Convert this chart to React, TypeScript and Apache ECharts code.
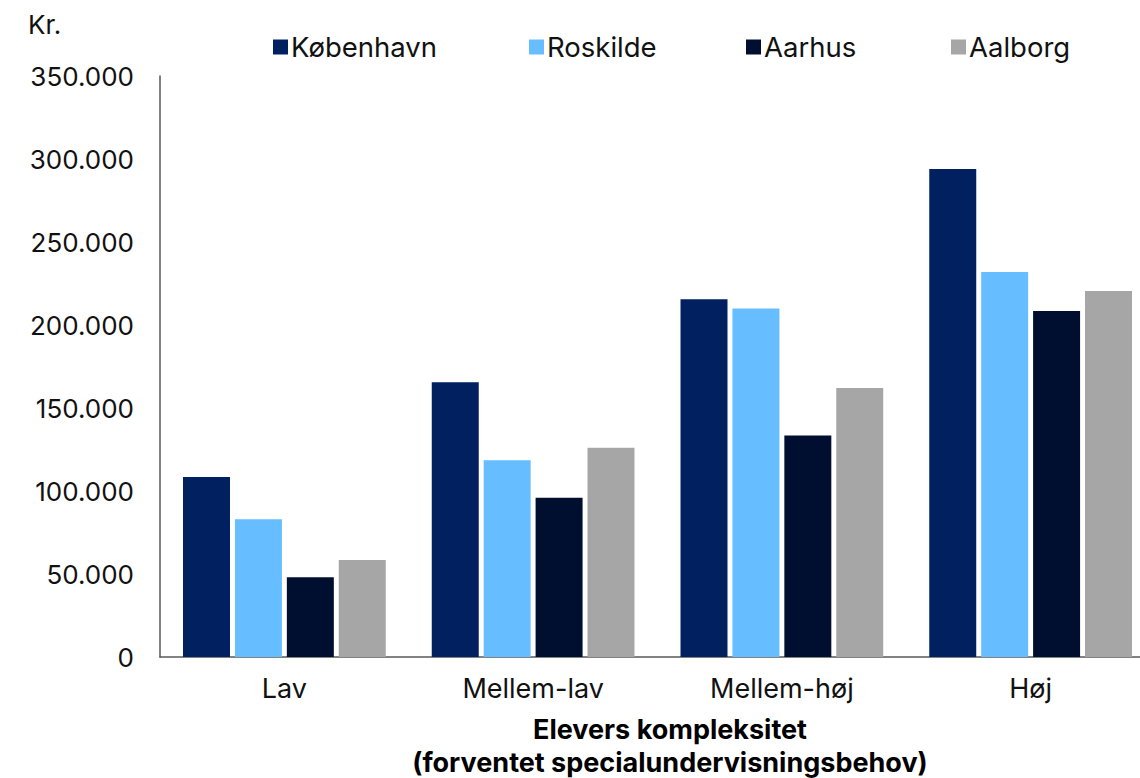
import React, { useEffect, useRef } from "react";
import * as echarts from "echarts";

const categories = ["Lav", "Mellem-lav", "Mellem-høj", "Høj"];
const seriesNames = ["København", "Roskilde", "Aarhus", "Aalborg"];
const kobenhavn = [108500, 165500, 215500, 294000];
const roskilde = [83000, 118500, 210000, 232000];
const aarhus = [48000, 96000, 133500, 208500];
const aalborg = [58500, 126000, 162000, 220500];
const colors = ["#002060", "#66BDFF", "#000F30", "#A6A6A6"];
const legendLefts = [268, 524, 741, 946];

const FONT = "Inter, 'Open Sans', sans-serif";
const FS = 26;

const fmt = (v: number) =>
  String(Math.round(v)).replace(/\B(?=(\d{3})+(?!\d))/g, ".");

export default function App() {
  const ref = useRef<HTMLDivElement>(null);
  useEffect(() => {
    document.body.style.margin = "0";
    const chart = echarts.init(ref.current!, null, { renderer: "svg" });
    const values = [kobenhavn, roskilde, aarhus, aalborg];
    chart.setOption({
      animation: false,
      textStyle: { fontFamily: FONT },
      title: {
        text: "Kr.",
        left: 23,
        top: 6,
        textStyle: { fontFamily: FONT, fontSize: FS, fontWeight: "normal", color: "#111" },
      },
      legend: seriesNames.map((n, i) => ({
        data: [n],
        left: legendLefts[i],
        top: 28,
        itemWidth: 15,
        itemHeight: 15,
        itemGap: 0,
        icon: "rect",
        textStyle: { fontFamily: FONT, fontSize: 27.5, color: "#111", padding: [0, 0, 0, -2] },
      })),
      grid: {
        left: 160,
        right: -15,
        top: 76,
        bottom: 121,
        containLabel: false,
        outerBoundsMode: "none",
      },
      xAxis: {
        type: "category",
        data: categories,
        axisLine: { lineStyle: { color: "#595959", width: 1.5 } },
        axisTick: { show: false },
        axisLabel: { fontFamily: FONT, fontSize: 27, color: "#111", margin: 18 },
        name: "Elevers kompleksitet\n(forventet specialundervisningsbehov)",
        nameLocation: "middle",
        nameGap: 56,
        nameTextStyle: {
          fontFamily: FONT,
          fontSize: 27,
          fontWeight: "bold",
          color: "#000",
          lineHeight: 33,
          padding: [0, 0, 0, 25],
        },
      },
      yAxis: {
        type: "value",
        min: 0,
        max: 350000,
        interval: 50000,
        axisLine: { show: true, lineStyle: { color: "#595959", width: 1.5 } },
        axisTick: { show: false },
        splitLine: { show: false },
        axisLabel: {
          fontFamily: FONT,
          fontSize: FS,
          color: "#111",
          margin: 26,
          formatter: (v: number) => fmt(v),
        },
      },
      series: seriesNames.map((n, i) => ({
        name: n,
        type: "bar",
        data: values[i],
        itemStyle: { color: colors[i] },
        barGap: "10.5%",
        barCategoryGap: "18.5%",
      })),
    });
    return () => chart.dispose();
  }, []);
  return <div ref={ref} style={{ width: 1140, height: 778 }} />;
}
